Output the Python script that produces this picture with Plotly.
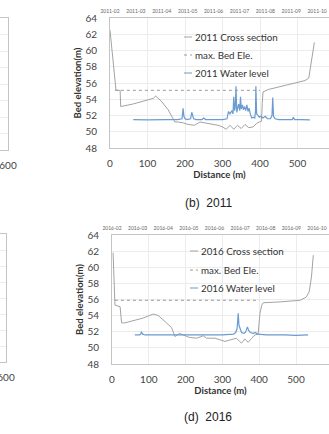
import plotly.graph_objects as go

# ---------------- data ----------------
# (b) 2011
cs2011_x = [0, 8, 13, 16, 27, 28.5, 60, 90, 115, 122, 138, 155, 167, 173, 182, 195, 208, 225, 240, 255, 269, 288, 300, 310, 320, 330, 340, 350, 360, 370, 382, 390, 398, 404, 406, 408, 422, 470, 520, 530, 541, 545]
cs2011_y = [62.5, 59.0, 57.2, 55.1, 55.1, 53.1, 53.4, 53.8, 54.1, 54.4, 53.7, 52.7, 51.7, 51.2, 51.2, 51.1, 50.9, 50.8, 51.2, 51.1, 51.0, 50.8, 50.6, 50.3, 50.8, 50.3, 50.8, 50.4, 50.9, 50.5, 50.6, 51.0, 51.2, 51.3, 53.5, 54.9, 55.2, 55.7, 56.3, 56.6, 59.5, 61.0]
maxbed2011_x = [13, 400]
maxbed2011_y = [55.1, 55.1]
wl2011_x = [62, 100, 150, 180, 192, 195, 197, 200, 205, 215, 218, 220, 223, 230, 245, 250, 255, 280, 300, 312, 316, 320, 325, 328, 330, 332, 334, 336, 338, 340, 343, 346, 348, 350, 353, 356, 359, 362, 365, 368, 371, 374, 378, 382, 386, 388, 389, 391, 394, 398, 402, 408, 414, 420, 428, 432, 434, 436, 440, 450, 470, 486, 489, 492, 510, 533]
wl2011_y = [51.5, 51.45, 51.5, 51.5, 51.6, 52.9, 51.9, 51.6, 51.5, 51.6, 52.4, 51.9, 51.6, 51.5, 51.5, 51.7, 51.5, 51.5, 51.5, 51.6, 52.5, 52.2, 52.6, 52.2, 54.3, 52.6, 53.0, 55.6, 52.4, 52.8, 53.4, 52.6, 54.3, 52.8, 53.3, 52.7, 53.1, 52.6, 53.3, 52.5, 52.9, 52.2, 51.7, 51.8, 51.7, 52.5, 55.6, 52.2, 52.0, 51.8, 51.9, 51.7, 51.9, 51.6, 51.6, 52.0, 54.2, 51.9, 51.6, 51.5, 51.5, 51.5, 51.8, 51.5, 51.5, 51.45]
dates2011 = ["2011-02", "2011-03", "2011-04", "2011-05", "2011-06", "2011-07", "2011-08", "2011-09", "2011-10"]

# (d) 2016
cs2016_x = [3, 8, 22, 26, 35, 67, 85, 112, 126, 148, 162, 168, 171, 183, 193, 210, 230, 248, 257, 280, 307, 325, 338, 347, 352, 361, 370, 380, 388, 397, 402, 407, 411, 456, 511, 528, 536, 542, 547]
cs2016_y = [61.8, 55.3, 55.1, 53.1, 53.1, 53.5, 53.7, 54.2, 54.0, 53.1, 52.5, 51.8, 51.4, 51.8, 51.6, 51.3, 51.2, 51.5, 51.2, 51.2, 50.8, 51.0, 51.2, 50.8, 50.6, 51.1, 50.7, 51.2, 51.6, 51.7, 54.3, 55.3, 55.6, 55.7, 55.9, 56.3, 57.0, 58.8, 61.5]
maxbed2016_x = [8, 400]
maxbed2016_y = [55.9, 55.9]
wl2016_x = [62, 75, 78, 80, 83, 90, 120, 160, 200, 250, 300, 330, 336, 340, 342, 343, 345, 348, 352, 358, 362, 365, 368, 371, 376, 385, 390, 395, 420, 470, 500, 533]
wl2016_y = [51.6, 51.6, 51.7, 52.0, 51.7, 51.6, 51.6, 51.6, 51.6, 51.65, 51.6, 51.7, 51.9, 52.4, 53.5, 54.3, 52.8, 52.3, 51.9, 51.8, 51.9, 52.2, 52.6, 52.2, 51.9, 51.8, 51.9, 51.7, 51.6, 51.6, 51.55, 51.6]
dates2016 = ["2016-02", "2016-03", "2016-04", "2016-05", "2016-06", "2016-07", "2016-08", "2016-09", "2016-10"]

y_ticks = [48, 50, 52, 54, 56, 58, 60, 62, 64]
x_ticks = [0, 100, 200, 300, 400, 500, 600]

# ---------------- styles ----------------
W, H = 329, 434
CS_COLOR = "#a3a3a3"
WL_COLOR = "#6b9bcf"
MB_COLOR = "#9a9a9a"
FRAME = "#c4c4c4"
GRID = "#ececec"
TICKFONT = dict(family="Lato", size=10, color="#444")
TITLEFONT = dict(family="Lato", size=9.5, color="#333")
LEGFONT = dict(family="Lato", size=9.8, color="#333")

def px_x(p):
    return p / W

def px_y(p):
    return 1 - p / H

fig = go.Figure()

def host(xa, ya, xs, ys):
    # invisible trace so that the axis pair is drawn
    fig.add_trace(go.Scatter(x=xs, y=ys, mode="lines", line=dict(width=0), opacity=0,
                             xaxis=xa, yaxis=ya, showlegend=False, hoverinfo="skip"))

def add_panel(xa, ya, xt, cs_x, cs_y, mb_x, mb_y, wl_x, wl_y, dates):
    fig.add_trace(go.Scatter(x=cs_x, y=cs_y, mode="lines", line=dict(color=CS_COLOR, width=1),
                             xaxis=xa, yaxis=ya, showlegend=False, hoverinfo="skip"))
    fig.add_trace(go.Scatter(x=mb_x, y=mb_y, mode="lines", line=dict(color=MB_COLOR, width=1, dash="dot"),
                             xaxis=xa, yaxis=ya, showlegend=False, hoverinfo="skip"))
    fig.add_trace(go.Scatter(x=wl_x, y=wl_y, mode="lines", line=dict(color=WL_COLOR, width=1.2),
                             xaxis=xa, yaxis=ya, showlegend=False, hoverinfo="skip"))
    host(xt, ya, list(range(len(dates))), [56] * len(dates))

add_panel("x", "y", "x2", cs2011_x, cs2011_y, maxbed2011_x, maxbed2011_y, wl2011_x, wl2011_y, dates2011)
add_panel("x3", "y3", "x4", cs2016_x, cs2016_y, maxbed2016_x, maxbed2016_y, wl2016_x, wl2016_y, dates2016)
host("x5", "y5", [598, 599], [56, 56])
host("x6", "y6", [598, 599], [56, 56])

def xmain(domain, rng):
    return dict(domain=domain, range=rng, tickvals=x_ticks, showgrid=True, gridcolor=GRID,
                showline=True, linecolor=FRAME, linewidth=1, mirror=True, zeroline=False,
                ticks="", tickfont=TICKFONT, ticklabelstandoff=6, automargin=False,
                ticklabeloverflow="allow",
                title=dict(text="<b>Distance (m)</b>", font=TITLEFONT, standoff=3))

def ymain(domain):
    return dict(domain=domain, range=[48, 64], tickvals=y_ticks, showgrid=True, gridcolor=GRID,
                showline=True, linecolor=FRAME, linewidth=1, zeroline=False,
                ticks="", tickfont=TICKFONT, ticklabelstandoff=10, automargin=False,
                ticklabeloverflow="allow",
                title=dict(text="<b>Bed elevation(m)</b>", font=TITLEFONT, standoff=2))

def xtop(overlay, anchor, dates, rng):
    return dict(overlaying=overlay, anchor=anchor, side="top", range=rng,
                tickvals=list(range(len(dates))), ticktext=dates, showgrid=False,
                showline=False, zeroline=False, ticks="", automargin=False,
                ticklabeloverflow="allow",
                tickfont=dict(family="Lato", size=5, color="#666"), ticklabelstandoff=3)

def partial(domain_x, domain_y, anchor_x, anchor_y):
    xa = dict(domain=domain_x, range=[595, 600], tickvals=[600], showgrid=False,
              showline=True, linecolor=FRAME, linewidth=1, mirror=True, zeroline=False,
              ticks="", tickfont=TICKFONT, ticklabelstandoff=6, anchor=anchor_y,
              automargin=False, ticklabeloverflow="allow")
    ya = dict(domain=domain_y, range=[48, 64], dtick=2, showgrid=True, gridcolor=GRID,
              showline=True, linecolor=FRAME, linewidth=1, side="right", showticklabels=False,
              zeroline=False, ticks="", anchor=anchor_x, automargin=False)
    return xa, ya

x5, y5 = partial([0, px_x(8)], [px_y(150), px_y(18)], "x5", "y5")
x6, y6 = partial([0, px_x(6)], [px_y(362), px_y(234)], "x6", "y6")

fig.update_layout(
    width=W, height=H, margin=dict(l=0, r=0, t=0, b=0, autoexpand=False),
    paper_bgcolor="white", plot_bgcolor="white", showlegend=False,
    xaxis=dict(**xmain([px_x(110), 1], [0, (W - 110) / 0.375]), anchor="y"),
    yaxis=dict(**ymain([px_y(148), px_y(18)]), anchor="x"),
    xaxis2=xtop("x", "y", dates2011, [0, 8.46]),
    xaxis3=dict(**xmain([px_x(112), 1], [0, (W - 112) / 0.368]), anchor="y3"),
    yaxis3=dict(**ymain([px_y(364), px_y(235)]), anchor="x3"),
    xaxis4=xtop("x3", "y3", dates2016, [0, 8.47]),
    xaxis5=x5, yaxis5=y5, xaxis6=x6, yaxis6=y6,
)

# Manual legends (short line samples + labels)
def legend(x0, rows, labels):
    styles = [dict(color=CS_COLOR, width=1), dict(color=MB_COLOR, width=1, dash="dot"),
              dict(color=WL_COLOR, width=1)]
    for r, lab, st in zip(rows, labels, styles):
        fig.add_shape(type="line", xref="paper", yref="paper",
                      x0=px_x(x0), x1=px_x(x0 + 8), y0=px_y(r), y1=px_y(r), line=st)
        fig.add_annotation(text=lab, xref="paper", yref="paper", x=px_x(x0 + 8.5), y=px_y(r),
                           xanchor="left", yanchor="middle", showarrow=False, font=LEGFONT)

legend(184, [37, 55, 73], ["2011 Cross section", "max. Bed Ele.", "2011 Water level"])
legend(190, [251, 270, 288], ["2016 Cross section", "max. Bed Ele.", "2016 Water level"])

# Captions
for txt, yy in [("(b)  2011", 203), ("(d)  2016", 417)]:
    fig.add_annotation(text=txt, xref="paper", yref="paper", x=px_x(208), y=px_y(yy),
                       xanchor="center", yanchor="middle", showarrow=False,
                       font=dict(family="Liberation Sans", size=12, color="#222"))

fig.write_html("out.html")
